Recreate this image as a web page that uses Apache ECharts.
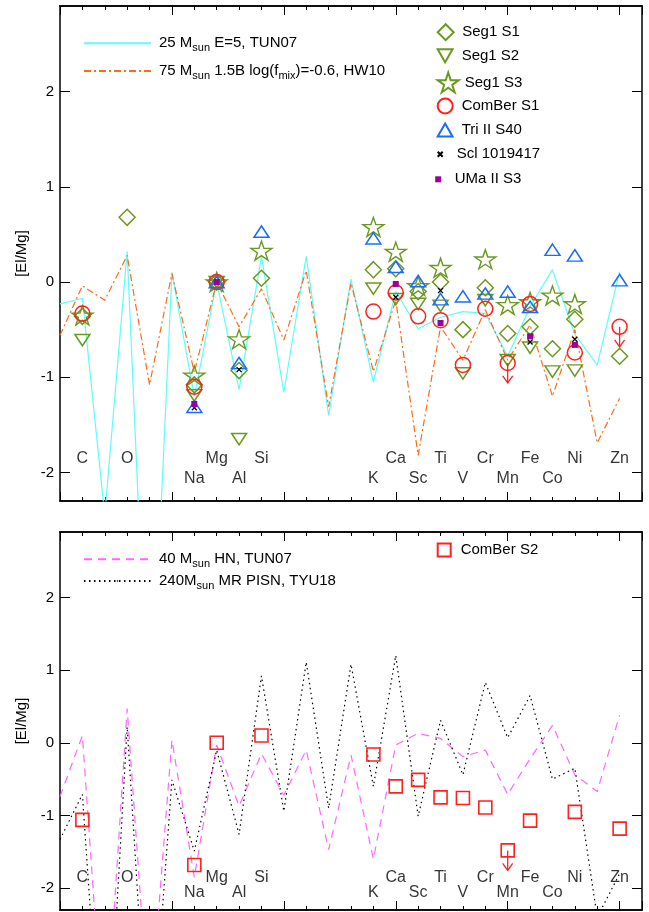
<!DOCTYPE html>
<html><head><meta charset="utf-8">
<script src="https://cdn.jsdelivr.net/npm/echarts@6/dist/echarts.min.js"></script>
<style>html,body{margin:0;padding:0;background:#fff}#c{width:649px;height:912px}</style>
</head><body><div id="c"></div>
<script>
// ---------- DATA ----------
// Model yields, atomic number Z = 5..30
const modelZ = [5,6,7,8,9,10,11,12,13,14,15,16,17,18,19,20,21,22,23,24,25,26,27,28,29,30];
const tun07_25msun = [-0.23,-0.17,-2.45,0.32,-5.0,0.10,-1.20,0.00,-1.13,0.27,-1.16,0.27,-1.40,0.03,-1.05,-0.10,-0.49,-0.37,-0.31,-0.33,-0.78,-0.26,0.13,-0.55,-0.87,0.11];
const hw10_75msun = [-0.56,-0.04,-0.19,0.28,-1.08,0.09,-0.95,0.00,-0.47,-0.07,-0.61,0.12,-1.31,-0.01,-0.94,-0.19,-1.82,-0.47,-0.82,-0.29,-0.82,-0.45,-1.20,-0.50,-1.69,-1.22];
const tun07_40msunHN = [-0.74,0.10,-4.3,0.47,-3.9,0.04,-1.85,-0.03,-0.87,-0.15,-0.72,-0.10,-1.47,-0.17,-1.60,-0.03,0.13,0.06,-0.19,-0.10,-0.71,-0.22,0.24,-0.44,-0.67,0.38];
const tyu18_240msun = [-1.33,-0.71,-5.2,0.22,-4.7,-0.51,-1.49,-0.10,-1.26,0.92,-0.94,1.11,-0.90,1.08,-0.60,1.20,-1.01,0.31,-0.44,0.83,0.07,0.65,-0.50,-0.35,-2.40,-1.80];

// Observed elements
const elemNames = ['C','O','Na','Mg','Al','Si','K','Ca','Sc','Ti','V','Cr','Mn','Fe','Co','Ni','Zn'];
const elemZ     = [6,8,11,12,13,14,19,20,21,22,23,24,25,26,27,28,30];
const elemRow   = [1,1,2,1,2,1,2,1,2,1,2,1,2,1,2,1,1];

const seg1S1  = [-0.36,0.68,-1.08,0.00,-0.93,0.04,0.13,0.14,-0.10,0.00,-0.50,-0.06,-0.54,-0.47,-0.70,-0.39,-0.78];
const seg1S2  = [-0.61,null,-1.19,0.00,-1.65,null,-0.07,-0.18,-0.23,-0.25,-0.96,-0.19,-0.82,-0.69,-0.94,-0.93,null];
const seg1S3  = [-0.35,null,-0.98,0.00,-0.60,0.33,0.58,0.32,-0.04,0.15,null,0.24,-0.24,-0.21,-0.14,-0.23,null];
const comBerS1 = [-0.33,null,-1.10,0.00,null,null,-0.31,-0.11,-0.36,-0.40,-0.87,-0.28,-0.85,-0.23,null,-0.74,-0.47];
const comBerS1UpperLimitZ = [25,30];
const triIIS40 = [null,null,-1.31,0.00,-0.85,0.53,0.46,0.16,0.01,-0.18,-0.15,-0.12,-0.10,-0.26,0.34,0.28,0.02];
const scl1019417 = [null,null,-1.32,0.00,-0.92,null,null,-0.16,null,-0.09,null,null,null,-0.63,null,-0.60,null];
const umaIIS3 = [null,null,-1.28,0.00,null,null,null,-0.02,null,-0.43,null,null,null,-0.57,null,-0.66,null];
const comBerS2 = [-1.06,null,-1.68,0.00,null,0.10,-0.16,-0.60,-0.51,-0.75,-0.76,-0.89,-1.48,-1.07,null,-0.95,-1.18];
const comBerS2UpperLimitZ = [25];

const yTicks = [-2,-1,0,1,2];

// ---------- STYLE ----------
const FONT = 'Liberation Sans, Arial, Helvetica, sans-serif';
const GREEN = '#6a9a1f', RED = '#ff2020', BLUE = '#1a6cff', PURPLE = '#990099';
const CYAN = '#5ffcfc', ORANGE = '#ff6a14', MAGENTA = '#ff66ff';
const Y_MIN = -2.3, Y_MAX = 2.9;
const ROW1 = -1.85, ROW2 = -2.06;

const SYM = {
  diamond: 'path://M0,-1 L1,0 L0,1 L-1,0 Z',
  up: 'path://M1,0 L2,1.75 L0,1.75 Z',
  down: 'path://M0,0 L2,0 L1,1.75 Z',
  star: 'path://M0,-1 L0.2245,-0.309 L0.9511,-0.309 L0.3633,0.118 L0.5878,0.809 L0,0.382 L-0.5878,0.809 L-0.3633,0.118 L-0.9511,-0.309 L-0.2245,-0.309 Z',
  cross: 'path://M0,0 L1,1 M1,0 L0,1',
  square: 'path://M0,0 L1,0 L1,1 L0,1 Z'
};

function pairs(xs, ys) { const out = []; xs.forEach((x, i) => { if (ys[i] !== null && ys[i] !== undefined) out.push([x, ys[i]]); }); return out; }
function ulPairs(zList, ys) { return zList.map(z => [z, ys[elemZ.indexOf(z)]]); }

// grids 0/1: panels (short ticks); grids 2/3: overlays (long ticks)
function xAxes(gi, interval, len) {
  const base = (pos) => ({
    gridIndex: gi, type: 'value', position: pos, min: 5, max: 31, interval: interval,
    axisLine: { show: true, onZero: false, lineStyle: { color: '#000', width: 1.5 } },
    axisTick: { show: true, inside: true, length: len, lineStyle: { color: '#000', width: 1 } },
    axisLabel: { show: false }, splitLine: { show: false }
  });
  return [base('bottom'), base('top')];
}
function yAxes(gi) {
  const left = {
    gridIndex: gi, type: 'value', position: 'left', min: Y_MIN, max: Y_MAX,
    axisLine: { show: true, onZero: false, lineStyle: { color: '#000', width: 1.5 } },
    axisTick: { show: true, inside: true, length: 10, customValues: yTicks, lineStyle: { color: '#000', width: 1 } },
    axisLabel: { show: true, customValues: yTicks, margin: 6, fontSize: 15, color: '#000', fontFamily: FONT },
    splitLine: { show: false },
    name: '[El/Mg]', nameLocation: 'middle', nameGap: 25, nameRotate: 90,
    nameTextStyle: { fontSize: 15, color: '#000', fontFamily: FONT }
  };
  const right = {
    gridIndex: gi, type: 'value', position: 'right', min: Y_MIN, max: Y_MAX,
    axisLine: { show: true, onZero: false, lineStyle: { color: '#000', width: 1.5 } },
    axisTick: { show: true, inside: true, length: 10, customValues: yTicks, lineStyle: { color: '#000', width: 1 } },
    axisLabel: { show: false }, splitLine: { show: false }
  };
  return [left, right];
}
function hiddenY(gi) { return { gridIndex: gi, type: 'value', min: Y_MIN, max: Y_MAX, show: false }; }

function lineSeries(name, ys, color, type, gi) {
  return {
    name: name, type: 'line', xAxisIndex: gi * 2, yAxisIndex: gi * 2,
    data: pairs(modelZ, ys), symbol: 'none', clip: true, silent: true,
    lineStyle: { color: color, width: 1.2, type: type }, itemStyle: { color: color }, z: 2
  };
}
function scatterSeries(name, ys, symbol, size, stroke, fill, bw, gi) {
  return {
    name: name, type: 'scatter', xAxisIndex: gi * 2, yAxisIndex: gi * 2,
    data: pairs(elemZ, ys), symbol: symbol, symbolSize: size, symbolKeepAspect: true, silent: true,
    itemStyle: { color: fill, borderColor: stroke, borderWidth: bw, opacity: 1 }, z: 3
  };
}
function arrowSeries(data, gi) {
  return {
    type: 'custom', xAxisIndex: gi * 2, yAxisIndex: gi * 2, data: data, silent: true, z: 4,
    renderItem: function (params, api) {
      const p = api.coord([api.value(0), api.value(1)]);
      const L = 20;
      return { type: 'group', children: [
        { type: 'line', shape: { x1: p[0], y1: p[1], x2: p[0], y2: p[1] + L }, style: { stroke: RED, lineWidth: 1.3 } },
        { type: 'polyline', shape: { points: [[p[0] - 5, p[1] + L - 7], [p[0], p[1] + L], [p[0] + 5, p[1] + L - 7]] }, style: { stroke: RED, fill: null, lineWidth: 1.3 } }
      ] };
    }
  };
}
function labelSeries(gi) {
  return {
    type: 'scatter', xAxisIndex: gi * 2, yAxisIndex: gi * 2, silent: true, z: 5,
    symbol: 'circle', symbolSize: 1, itemStyle: { color: 'rgba(0,0,0,0)' },
    data: elemNames.map((n, i) => [elemZ[i], elemRow[i] === 1 ? ROW1 : ROW2, n]),
    label: { show: true, position: 'inside', formatter: p => p.value[2], fontSize: 16, color: '#000', fontFamily: FONT }
  };
}

const RICH = {
  s: { fontSize: 11, lineHeight: 11, verticalAlign: 'bottom', fontFamily: FONT, color: '#000' }
};
const legendText = {
  '25 Msun E=5, TUN07': '25 M{s|sun} E=5, TUN07',
  '75 Msun 1.5B log(fmix)=-0.6, HW10': '75 M{s|sun} 1.5B log(f{s|mix})=-0.6, HW10',
  '40 Msun HN, TUN07': '40 M{s|sun} HN, TUN07',
  '240Msun MR PISN, TYU18': '240M{s|sun} MR PISN, TYU18'
};
function lineLegend(name, cy) {
  return {
    data: [name], left: 83, top: cy - 10, itemWidth: 67, itemHeight: 2, padding: 0, selectedMode: false,
    itemStyle: { borderWidth: 0 },
    formatter: n => legendText[n] || n,
    textStyle: { fontSize: 15, lineHeight: 20, color: '#000', fontFamily: FONT, padding: [0, 0, 0, 3], rich: RICH }
  };
}
function markLegend(name, cx, cy, ih) {
  const iw = 23;
  return {
    data: [name], left: cx - iw / 2, top: cy - Math.max(ih, 18) / 2, itemWidth: iw, itemHeight: ih,
    padding: 0, selectedMode: false, symbolKeepAspect: true,
    textStyle: { fontSize: 15, lineHeight: 18, color: '#000', fontFamily: FONT }
  };
}

const series = [
  lineSeries('25 Msun E=5, TUN07', tun07_25msun, CYAN, 'solid', 0),
  lineSeries('75 Msun 1.5B log(fmix)=-0.6, HW10', hw10_75msun, ORANGE, [7, 3, 2, 3], 0),
  scatterSeries('Seg1 S1', seg1S1, SYM.diamond, 16, GREEN, 'none', 1.5, 0),
  scatterSeries('Seg1 S2', seg1S2, SYM.down, [15, 13], GREEN, 'none', 1.5, 0),
  scatterSeries('Seg1 S3', seg1S3, SYM.star, [21, 20], GREEN, 'none', 1.4, 0),
  scatterSeries('ComBer S1', comBerS1, 'circle', 15, RED, 'none', 1.5, 0),
  scatterSeries('Tri II S40', triIIS40, SYM.up, [15, 13], BLUE, 'none', 1.5, 0),
  scatterSeries('Scl 1019417', scl1019417, SYM.cross, 5, '#000', 'none', 1.3, 0),
  scatterSeries('UMa II S3', umaIIS3, SYM.square, 6, PURPLE, PURPLE, 0, 0),
  arrowSeries(ulPairs(comBerS1UpperLimitZ, comBerS1), 0),
  labelSeries(0),
  lineSeries('40 Msun HN, TUN07', tun07_40msunHN, MAGENTA, [8, 6], 1),
  lineSeries('240Msun MR PISN, TYU18', tyu18_240msun, '#000', [1.5, 3.5], 1),
  scatterSeries('ComBer S2', comBerS2, SYM.square, 13, RED, 'none', 1.6, 1),
  arrowSeries(ulPairs(comBerS2UpperLimitZ, comBerS2), 1),
  labelSeries(1)
];

const MX = 446.7;
const G0 = { left: 60, right: 7, top: 6, height: 495 };
const G1 = { left: 60, right: 7, top: 532, height: 378 };
const option = {
  animation: false,
  backgroundColor: '#fff',
  textStyle: { fontFamily: FONT },
  grid: [G0, G1, Object.assign({}, G0), Object.assign({}, G1)],
  xAxis: [].concat(xAxes(0, 1, 4), xAxes(1, 1, 4), xAxes(2, 5, 9), xAxes(3, 5, 9)),
  yAxis: [].concat(yAxes(0), yAxes(1), [hiddenY(2), hiddenY(3)]),
  legend: [
    lineLegend('25 Msun E=5, TUN07', 43.3),
    lineLegend('75 Msun 1.5B log(fmix)=-0.6, HW10', 71),
    markLegend('Seg1 S1', MX, 30.7, 16),
    markLegend('Seg1 S2', MX, 55.7, 13),
    markLegend('Seg1 S3', MX, 80, 20),
    markLegend('ComBer S1', MX, 105, 15),
    markLegend('Tri II S40', MX, 130, 13),
    markLegend('Scl 1019417', MX, 154.3, 5),
    markLegend('UMa II S3', MX, 179.3, 6),
    lineLegend('40 Msun HN, TUN07', 559.3),
    lineLegend('240Msun MR PISN, TYU18', 581),
    markLegend('ComBer S2', MX, 550, 13)
  ],
  series: series
};

const chart = echarts.init(document.getElementById('c'), null, { renderer: 'canvas' });
chart.setOption(option);
</script>
</body></html>
